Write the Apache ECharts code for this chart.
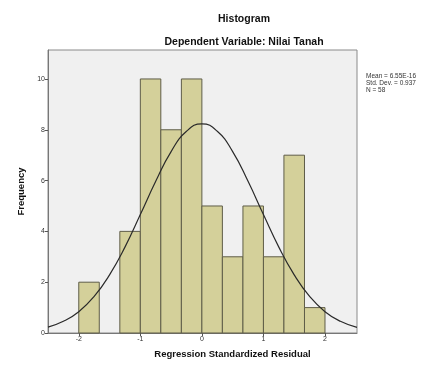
<!DOCTYPE html>
<html>
<head>
<meta charset="utf-8">
<script src="https://cdn.jsdelivr.net/npm/echarts@6/dist/echarts.min.js"></script>
<style>
  html, body { margin: 0; padding: 0; background: #fff; }
  #chart { width: 425px; height: 367px; }
</style>
</head>
<body>
<div id="chart"></div>
<script>
// histogram bins (left edge, right edge, frequency)
const binFrom = [-2, -1.667, -1.333, -1, -0.667, -0.333, 0, 0.333, 0.667, 1, 1.333, 1.667]
const binTo = [-1.667, -1.333, -1, -0.667, -0.333, 0, 0.333, 0.667, 1, 1.333, 1.667, 2]
const counts = [2, 0, 4, 10, 8, 10, 5, 3, 5, 3, 7, 1]

// normal curve
const curveX = [-2.5, -2.25, -2, -1.75, -1.5, -1.25, -1, -0.75, -0.5, -0.25, 0, 0.25, 0.5, 0.75, 1, 1.25, 1.5, 1.75, 2, 2.25, 2.52]
const curveY = [0.23, 0.46, 0.84, 1.44, 2.29, 3.38, 4.66, 5.97, 7.14, 7.94, 8.23, 7.94, 7.14, 5.97, 4.66, 3.38, 2.29, 1.44, 0.84, 0.46, 0.22]

const xTicks = [-2, -1, 0, 1, 2]
const statLines = ['Mean = 6.55E-16', 'Std. Dev. = 0.937', 'N = 58']

const chart = echarts.init(document.getElementById('chart'))

const font = 'Arial, "Liberation Sans", sans-serif'

chart.setOption({
  animation: false,
  title: [
    {
      text: 'Histogram',
      left: 239, top: 9, textAlign: 'center',
      textStyle: { fontFamily: font, fontSize: 10.5, fontWeight: 'bold', color: '#111' },
    },
    {
      text: 'Dependent Variable: Nilai Tanah',
      left: 239, top: 32, textAlign: 'center',
      textStyle: { fontFamily: font, fontSize: 10.5, fontWeight: 'bold', color: '#111' },
    },
    {
      text: statLines.join('\n'),
      left: 361, top: 68,
      textStyle: { fontFamily: font, fontSize: 6.5, fontWeight: 'normal', color: '#333', lineHeight: 7 },
    },
  ],
  grid: {
    left: 48, right: 68, top: 50, bottom: 34,
    show: true, backgroundColor: '#f0f0f0', borderColor: '#8a8a8a', borderWidth: 1,
  },
  xAxis: {
    type: 'value',
    min: -2.5,
    max: 2.52,
    name: 'Regression Standardized Residual',
    nameLocation: 'middle',
    nameGap: 16,
    nameTextStyle: { fontFamily: font, fontSize: 9.5, fontWeight: 'bold', color: '#111', padding: [0, 0, 0, 60] },
    axisLine: { show: true, onZero: false, lineStyle: { color: '#777' } },
    axisTick: { show: true, length: 3, customValues: xTicks, lineStyle: { color: '#555' } },
    axisLabel: { customValues: xTicks, fontFamily: font, fontSize: 7, color: '#333', margin: 3 },
    splitLine: { show: false },
  },
  yAxis: {
    type: 'value',
    min: 0,
    max: 11.14,
    interval: 2,
    name: 'Frequency',
    nameLocation: 'middle',
    nameGap: 22,
    nameTextStyle: { fontFamily: font, fontSize: 9.5, fontWeight: 'bold', color: '#111' },
    axisLine: { show: true, onZero: false, lineStyle: { color: '#777' } },
    axisTick: { show: true, length: 3, lineStyle: { color: '#555' } },
    axisLabel: { fontFamily: font, fontSize: 7, color: '#333', margin: 3, showMaxLabel: false },
    splitLine: { show: false },
  },
  series: [
    {
      type: 'custom',
      data: counts.map((c, i) => [binFrom[i], binTo[i], c]),
      renderItem: (params, api) => {
        if (api.value(2) === 0) return null
        const p0 = api.coord([api.value(0), api.value(2)])
        const p1 = api.coord([api.value(1), 0])
        return {
          type: 'rect',
          shape: { x: p0[0], y: p0[1], width: p1[0] - p0[0], height: p1[1] - p0[1] },
          style: { fill: '#d4d09a', stroke: '#5f5d48', lineWidth: 1 },
        }
      },
      z: 2,
    },
    {
      type: 'line',
      data: curveX.map((x, i) => [x, curveY[i]]),
      smooth: true,
      symbol: 'none',
      lineStyle: { color: '#2a2a2a', width: 1.2 },
      z: 3,
    },
  ],
})
</script>
</body>
</html>
